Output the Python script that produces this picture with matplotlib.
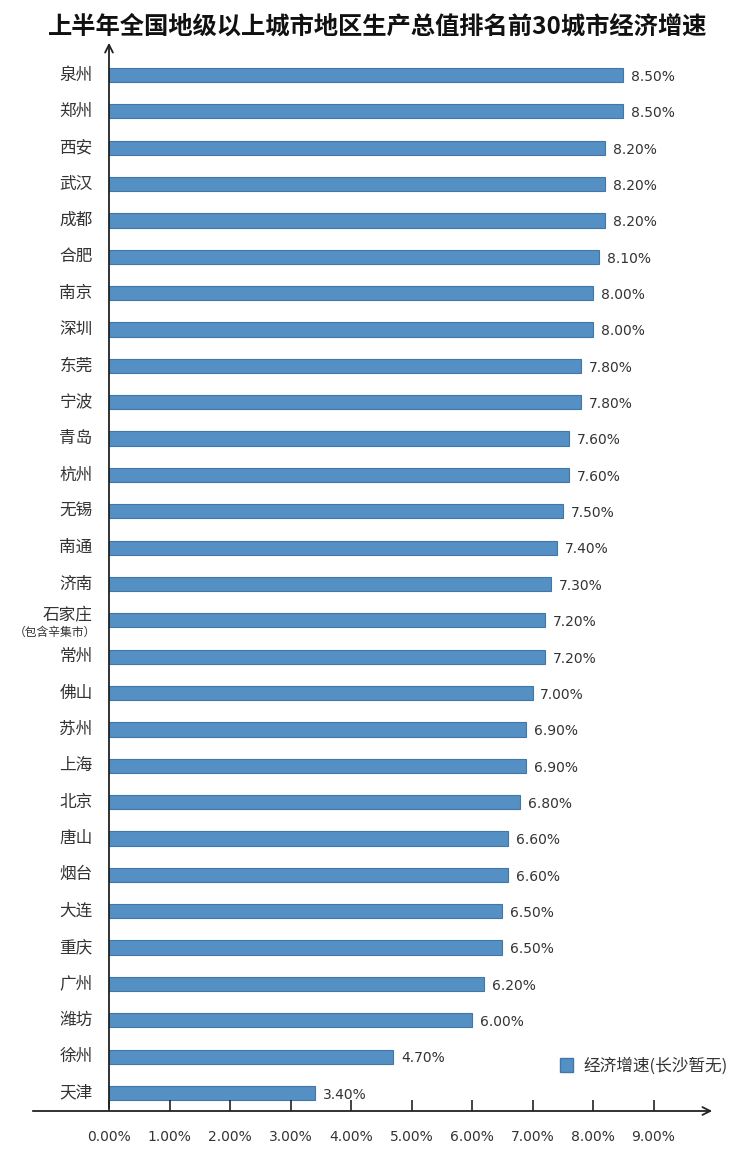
import numpy as np
import matplotlib
matplotlib.use('Agg')
import matplotlib.pyplot as plt
from matplotlib.patches import Patch

plt.rcParams['font.family'] = ['Noto Sans CJK SC', 'DejaVu Sans']

# 数据
cities = ['泉州', '郑州', '西安', '武汉', '成都', '合肥', '南京', '深圳', '东莞', '宁波',
          '青岛', '杭州', '无锡', '南通', '济南', '石家庄', '常州', '佛山', '苏州', '上海',
          '北京', '唐山', '烟台', '大连', '重庆', '广州', '潍坊', '徐州', '天津']
growth = [8.5, 8.5, 8.2, 8.2, 8.2, 8.1, 8.0, 8.0, 7.8, 7.8,
          7.6, 7.6, 7.5, 7.4, 7.3, 7.2, 7.2, 7.0, 6.9, 6.9,
          6.8, 6.6, 6.6, 6.5, 6.5, 6.2, 6.0, 4.7, 3.4]
xticks = np.arange(0, 10)
xticklabels = ['{:.2f}%'.format(t) for t in xticks]

title = '上半年全国地级以上城市地区生产总值排名前30城市经济增速'
legend_label = '经济增速(长沙暂无)'

bar_color = '#5590c5'
edge_color = '#4276a6'
text_color = '#333333'

fig = plt.figure(figsize=(7.56, 11.56), dpi=100)
ax = fig.add_axes([30 / 756, 45 / 1156, 685 / 756, 1071 / 1156])

y = np.arange(len(cities))
ax.barh(y, growth, height=0.39, color=bar_color, edgecolor=edge_color, linewidth=0.8)

xmin = -79 / 60.5
xmax = 606 / 60.5
ybot = len(cities) - 1 + 18 / 36.36
ytop = -35 / 36.36
ax.set_xlim(xmin, xmax)
ax.set_ylim(ybot, ytop)

for s in ax.spines.values():
    s.set_visible(False)

# 坐标轴箭头
ax.annotate('', xy=(0, ytop), xytext=(0, ybot),
            arrowprops=dict(arrowstyle='->', color='#222222', lw=1.3, mutation_scale=14))
ax.annotate('', xy=(xmax, ybot), xytext=(xmin, ybot),
            arrowprops=dict(arrowstyle='->', color='#222222', lw=1.3, mutation_scale=14))

# 刻度
ax.set_xticks(xticks)
ax.set_xticklabels(xticklabels, fontsize=10, color=text_color, family=['DejaVu Sans'])
ax.tick_params(axis='x', direction='in', length=8, width=1.2, color='#222222', pad=14)
ax.set_yticks([])

# 城市名
for i, name in enumerate(cities):
    if name == '石家庄':
        ax.text(-0.27, i - 0.12, name, ha='right', va='center', fontsize=12, color=text_color)
        ax.text(-0.22, i + 0.33, '（包含辛集市）', ha='right', va='center', fontsize=8.5, color=text_color)
    else:
        ax.text(-0.27, i, name, ha='right', va='center', fontsize=12, color=text_color)

# 数值标签
for i, v in enumerate(growth):
    ax.text(v + 0.13, i + 0.05, '{:.2f}%'.format(v), ha='left', va='center',
            fontsize=10, color=text_color, family=['DejaVu Sans'])

fig.text(0.5, 1 - 27 / 1156, title, ha='center', va='center', fontsize=17.5,
         fontweight='bold', color='#111111')

handle = Patch(facecolor=bar_color, edgecolor=edge_color)
fig.legend(handles=[handle], labels=[legend_label], loc='center left',
           bbox_to_anchor=(545 / 756, 1 - 1066 / 1156), frameon=False,
           fontsize=12, handlelength=0.8, handleheight=0.9, handletextpad=0.6,
           labelcolor=text_color)

fig.savefig('out.png', dpi=100, facecolor='white')
